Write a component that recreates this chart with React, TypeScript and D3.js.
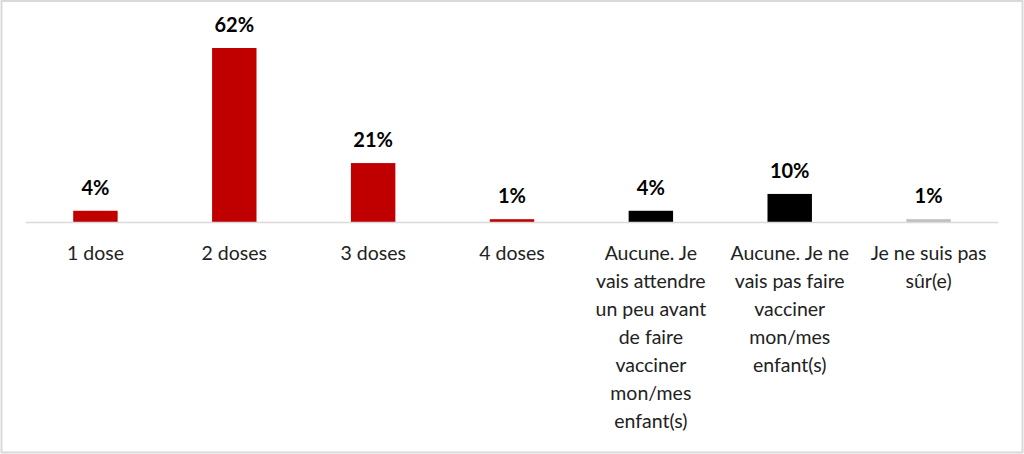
import React, { useEffect, useRef } from "react";
import * as d3 from "d3";

// catégories (sauts de ligne comme dans l'original)
const categories = [
  "1 dose",
  "2 doses",
  "3 doses",
  "4 doses",
  "Aucune. Je\nvais attendre\nun peu avant\nde faire\nvacciner\nmon/mes\nenfant(s)",
  "Aucune. Je ne\nvais pas faire\nvacciner\nmon/mes\nenfant(s)",
  "Je ne suis pas\nsûr(e)",
];
const values = [4, 62, 21, 1, 4, 10, 1];
const barColors = ["#C00000", "#C00000", "#C00000", "#C00000", "#000000", "#000000", "#BFBFBF"];

const W = 1024;
const H = 454;

const App = () => {
  const ref = useRef<SVGSVGElement>(null);

  useEffect(() => {
    const svg = d3.select(ref.current);
    svg.selectAll("*").remove();

    const font = "Lato, 'Open Sans', sans-serif";
    const baseY = 222;
    const left = 26;
    const right = 998;

    // cadre gris
    svg
      .append("rect")
      .attr("x", 1.5)
      .attr("y", 1)
      .attr("width", W - 3)
      .attr("height", H - 2.5)
      .attr("fill", "white")
      .attr("stroke", "#D9D9D9")
      .attr("stroke-width", 2);

    const x = d3.scaleBand().domain(categories).range([left, right]).paddingInner(0.68).paddingOuter(0.34);
    const y = d3.scaleLinear().domain([0, 62]).range([baseY, 48]);

    const g = svg.append("g");

    g.selectAll(".bar")
      .data(values)
      .enter()
      .append("rect")
      .attr("class", "bar")
      .attr("x", (d, i) => x(categories[i])!)
      .attr("y", (d) => y(d))
      .attr("width", x.bandwidth())
      .attr("height", (d) => baseY - y(d))
      .attr("fill", (d, i) => barColors[i]);

    // ligne d'axe
    g.append("line")
      .attr("x1", left)
      .attr("x2", right)
      .attr("y1", baseY + 0.5)
      .attr("y2", baseY + 0.5)
      .attr("stroke", "#D9D9D9")
      .attr("stroke-width", 1.5);

    // étiquettes de valeurs
    g.selectAll(".val")
      .data(values)
      .enter()
      .append("text")
      .attr("class", "val")
      .attr("x", (d, i) => x(categories[i])! + x.bandwidth() / 2)
      .attr("y", (d) => y(d) - 16)
      .attr("text-anchor", "middle")
      .style("font-family", font)
      .style("font-size", "20px")
      .style("font-weight", "bold")
      .attr("fill", "#000")
      .text((d) => d + "%");

    // étiquettes de catégories
    const labels = g
      .selectAll(".cat")
      .data(categories)
      .enter()
      .append("text")
      .attr("class", "cat")
      .attr("text-anchor", "middle")
      .style("font-family", font)
      .style("font-size", "19.5px")
      .attr("fill", "#222");

    labels.each(function (d) {
      const t = d3.select(this);
      const cx = x(d)! + x.bandwidth() / 2;
      d.split("\n").forEach((line, k) => {
        t.append("tspan")
          .attr("x", cx)
          .attr("y", 260 + k * 28)
          .text(line);
      });
    });
  }, []);

  return (
    <div style={{ position: "absolute", top: 0, left: 0 }}>
      <svg ref={ref} width={W} height={H} style={{ display: "block" }} />
    </div>
  );
};

export default App;
